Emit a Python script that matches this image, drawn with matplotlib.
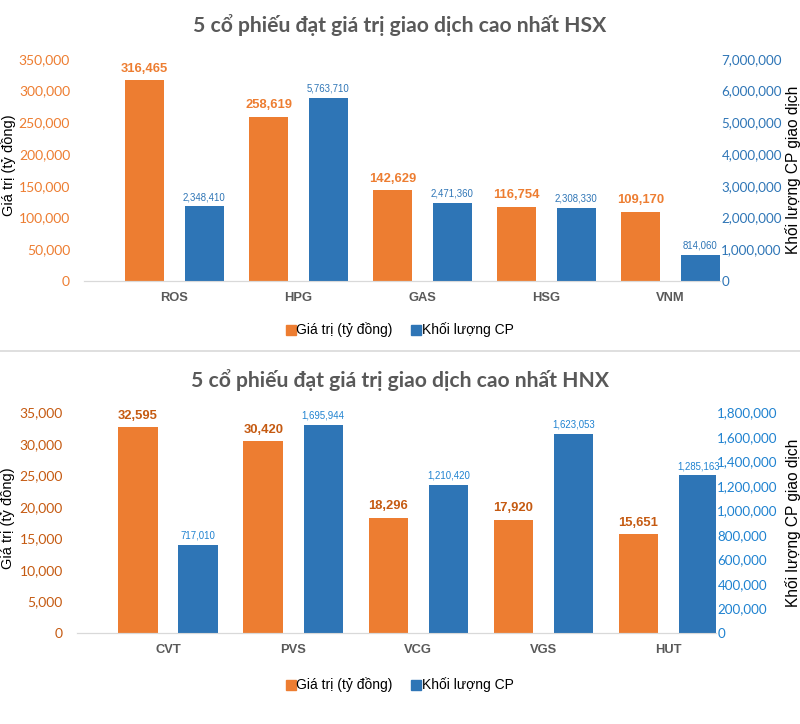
"""Top-5 stocks by trading value on HSX and HNX, two stacked dual-axis bar charts."""

import matplotlib
matplotlib.use("Agg")
import matplotlib.pyplot as plt
from matplotlib.lines import Line2D
from matplotlib.ticker import FuncFormatter, MultipleLocator

# HSX panel
hsx_tickers = ["ROS", "HPG", "GAS", "HSG", "VNM"]
hsx_value = [316465, 258619, 142629, 116754, 109170]        # ty dong
hsx_volume = [2348410, 5763710, 2471360, 2308330, 814060]   # co phieu

# HNX panel
hnx_tickers = ["CVT", "PVS", "VCG", "VGS", "HUT"]
hnx_value = [32595, 30420, 18296, 17920, 15651]
hnx_volume = [717010, 1695944, 1210420, 1623053, 1285163]

ORANGE = "#ED7D31"
BLUE = "#2E75B6"
GRAY = "#595959"
ARIAL = ["Liberation Sans", "DejaVu Sans"]
TICK_FONT = ["Lato", "DejaVu Sans"]

thousands = FuncFormatter(lambda v, _p: f"{v:,.0f}")


def draw_panel(fig, rect, title, title_y, tickers, value, volume,
               left_max, left_step, right_max, right_step,
               xlim, left_tick_color, value_color, right_color, legend_y,
               label_x):
    ax = fig.add_axes(rect)
    ax2 = ax.twinx()
    x = range(len(tickers))
    off, w = 0.24, 0.315

    ax.bar([i - off for i in x], value, width=w, color=ORANGE, zorder=2)
    ax2.bar([i + off for i in x], volume, width=w, color=BLUE, zorder=2)

    for i, v in enumerate(value):
        ax.annotate(f"{v:,}", (i - off, v), xytext=(0, 4), textcoords="offset points",
                    ha="center", va="bottom", fontsize=9.4, fontweight="bold",
                    color=value_color, family=ARIAL)
    for i, v in enumerate(volume):
        ax2.annotate(f"{v:,}", (i + off, v), xytext=(0, 3), textcoords="offset points",
                     ha="center", va="bottom", fontsize=6.9,
                     color=right_color, family=ARIAL)

    ax.set_xlim(*xlim)
    ax.set_ylim(0, left_max)
    ax2.set_ylim(0, right_max)
    ax.yaxis.set_major_locator(MultipleLocator(left_step))
    ax2.yaxis.set_major_locator(MultipleLocator(right_step))
    ax.yaxis.set_major_formatter(thousands)
    ax2.yaxis.set_major_formatter(thousands)

    ax.set_xticks(list(x))
    ax.set_xticklabels(tickers, fontsize=9.3, fontweight="bold", color=GRAY, family=ARIAL)
    ax.tick_params(axis="x", length=0, pad=8)
    ax.tick_params(axis="y", length=0, pad=10, labelcolor=left_tick_color, labelsize=10)
    ax2.tick_params(axis="y", length=0, pad=1, labelcolor=right_color, labelsize=9.6)
    for lab in ax.get_yticklabels() + ax2.get_yticklabels():
        lab.set_family(TICK_FONT)

    for a in (ax, ax2):
        for side in ("top", "left", "right"):
            a.spines[side].set_visible(False)
        a.spines["bottom"].set_color("#D9D9D9")

    ax.set_ylabel("Giá trị (tỷ đồng)", fontsize=10.5, family=ARIAL)
    ax2.set_ylabel("Khối lượng CP giao dịch", fontsize=11.2, family=ARIAL,
                   rotation=90)
    ax.yaxis.set_label_coords(label_x[0], 0.52)
    ax2.yaxis.set_label_coords(label_x[1], 0.5)

    fig.text(0.5, title_y, title, ha="center", va="center", fontsize=15.2,
             fontweight="bold", color=GRAY, family=["Lato", "DejaVu Sans"])

    handles = [Line2D([], [], ls="", marker="s", ms=7.5, color=ORANGE),
               Line2D([], [], ls="", marker="s", ms=7.5, color=BLUE)]
    fig.legend(handles, ["Giá trị (tỷ đồng)", "Khối lượng CP"], loc="center",
               bbox_to_anchor=(0.5, legend_y), ncol=2, frameon=False,
               handlelength=0.6, handletextpad=0.1, columnspacing=1.4,
               prop={"family": ARIAL, "size": 10})
    return ax, ax2


def main():
    fig = plt.figure(figsize=(8, 7.24), dpi=100)

    draw_panel(fig, [0.105, 0.612, 0.795, 0.3066],
               "5 cổ phiếu đạt giá trị giao dịch cao nhất HSX", 1 - 25 / 724,
               hsx_tickers, hsx_value, hsx_volume,
               350000, 50000, 7000000, 1000000,
               (-0.73, 4.40), ORANGE, ORANGE, BLUE, 1 - 330 / 724,
               (-0.107, 1.102))

    draw_panel(fig, [0.096, 0.1257, 0.799, 0.305],
               "5 cổ phiếu đạt giá trị giao dịch cao nhất HNX", 1 - 380 / 724,
               hnx_tickers, hnx_value, hnx_volume,
               35000, 5000, 1800000, 200000,
               (-0.73, 4.38), "#C55A11", "#C55A11", "#1F82D0", 1 - 685 / 724,
               (-0.096, 1.108))

    # thin divider between the two charts
    fig.add_artist(Line2D([0, 1], [1 - 351 / 724] * 2, color="#D9D9D9", lw=1.2))

    fig.savefig("out.png", dpi=100, facecolor="white")


if __name__ == "__main__":
    main()
